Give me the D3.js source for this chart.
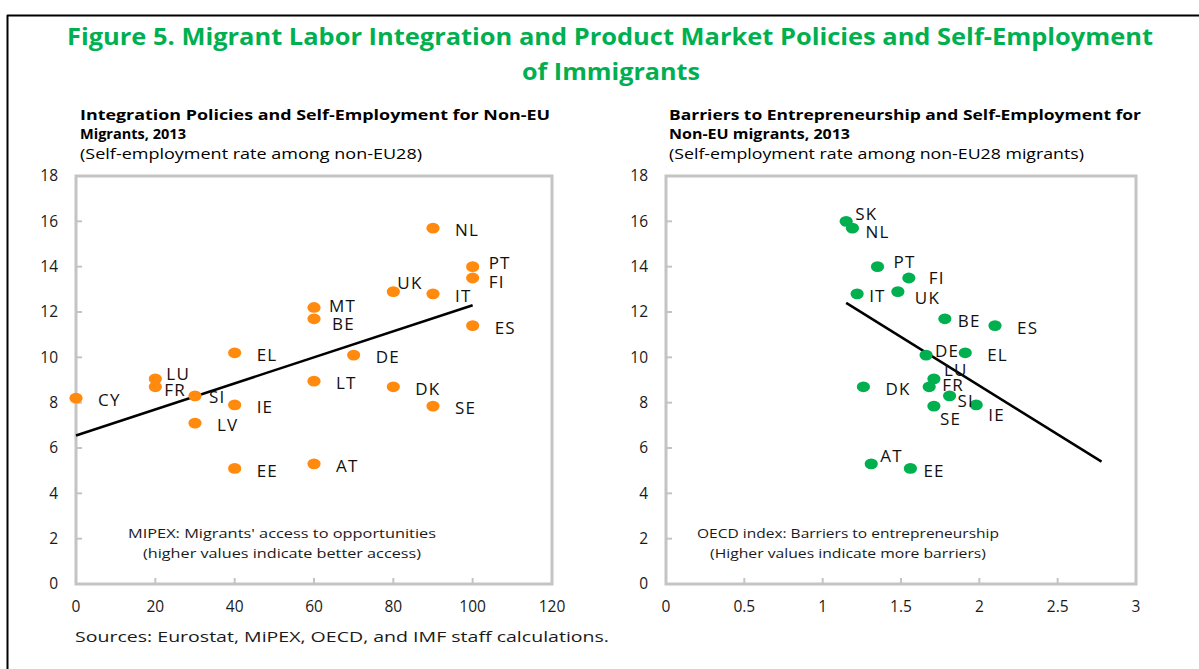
<!DOCTYPE html>
<html>
<head>
<meta charset="utf-8">
<script src="https://cdn.jsdelivr.net/npm/d3@7/dist/d3.min.js"></script>
<style>
  html, body { margin: 0; padding: 0; background: #fff; }
  svg { display: block; font-family: "Open Sans", "Noto Sans", sans-serif; }
</style>
</head>
<body>
<svg id="canvas" width="1199" height="669"></svg>
<script>
'use strict';

// ---- data ----
const mipexCountries = ['NL', 'PT', 'FI', 'UK', 'IT', 'MT', 'BE', 'ES', 'EL', 'DE', 'LU', 'FR', 'LT', 'DK', 'CY', 'SI', 'IE', 'SE', 'LV', 'EE', 'AT'];
const mipexScores    = [90, 100, 100, 80, 90, 60, 60, 100, 40, 70, 20, 20, 60, 80, 0, 30, 40, 90, 30, 40, 60];
const mipexSelfEmp   = [15.7, 14.0, 13.5, 12.9, 12.8, 12.2, 11.7, 11.4, 10.2, 10.1, 9.05, 8.7, 8.95, 8.7, 8.2, 8.3, 7.9, 7.85, 7.1, 5.1, 5.3];
const mipexTrend     = [[0, 6.55], [100, 12.3]];

const oecdCountries = ['SK', 'NL', 'PT', 'FI', 'UK', 'IT', 'BE', 'ES', 'DE', 'EL', 'LU', 'FR', 'DK', 'SI', 'IE', 'SE', 'AT', 'EE'];
const oecdBarriers  = [1.15, 1.19, 1.35, 1.55, 1.48, 1.22, 1.78, 2.10, 1.66, 1.91, 1.71, 1.68, 1.26, 1.81, 1.98, 1.71, 1.31, 1.56];
const oecdSelfEmp   = [16.0, 15.7, 14.0, 13.5, 12.9, 12.8, 11.7, 11.4, 10.1, 10.2, 9.05, 8.7, 8.7, 8.3, 7.9, 7.85, 5.3, 5.1];
const oecdTrend     = [[1.15, 12.4], [2.78, 5.4]];

const yTicks     = [0, 2, 4, 6, 8, 10, 12, 14, 16, 18];
const mipexTicks = [0, 20, 40, 60, 80, 100, 120];
const oecdTicks  = [0, 0.5, 1, 1.5, 2, 2.5, 3];

// label nudges (px) where the label is not at the default spot
const mipexNudge = { UK: [4, -9], PT: [16, -4], FI: [16, 4], MT: [15, -2], BE: [18, 5], LU: [11, -5], FR: [9, 3], SI: [14, 1] };
const oecdNudge  = { SK: [9, -7], NL: [13, 4], PT: [16, -5], FI: [20, 0], UK: [17, 6], IT: [12, 2], BE: [13, 2], DE: [9, -4],
                     LU: [10, -9], FR: [13, -2], SI: [8, 5], IE: [12, 10], SE: [6, 13], AT: [9, -8], EE: [13, 2] };

const svg = d3.select('#canvas');

// outer frame (top + left rule)
svg.append('line').attr('x1', 7).attr('x2', 1199).attr('y1', 15.5).attr('y2', 15.5)
    .attr('stroke', '#000').attr('stroke-width', 2);
svg.append('line').attr('x1', 7.5).attr('x2', 7.5).attr('y1', 15).attr('y2', 669)
    .attr('stroke', '#000').attr('stroke-width', 2);

// main title
const titleG = svg.append('g').attr('fill', '#00B050').attr('font-weight', 'bold')
    .attr('font-size', 24).attr('text-anchor', 'middle');
titleG.append('text').attr('x', 610).attr('y', 45)
    .attr('textLength', 1086).attr('lengthAdjust', 'spacingAndGlyphs')
    .text('Figure 5. Migrant Labor Integration and Product Market Policies and Self-Employment');
titleG.append('text').attr('x', 611).attr('y', 80)
    .attr('textLength', 178).attr('lengthAdjust', 'spacingAndGlyphs')
    .text('of Immigrants');

function drawPanel(p) {
    const g = svg.append('g');

    const x = d3.scaleLinear().domain(p.xDomain).range(p.xRange);
    const y = d3.scaleLinear().domain([0, 18]).range([584, 176]);

    // panel headings
    p.heading.forEach(function(h, i) {
        g.append('text')
            .attr('x', p.headX).attr('y', [120, 139, 159][i])
            .attr('font-size', i < 2 ? 14.5 : 14.5)
            .attr('font-weight', i < 2 ? 'bold' : 'normal')
            .attr('textLength', h.w).attr('lengthAdjust', 'spacingAndGlyphs')
            .text(h.t);
    });

    // plot box
    g.append('rect')
        .attr('x', x.range()[0]).attr('y', y(18))
        .attr('width', x.range()[1] - x.range()[0]).attr('height', y(0) - y(18))
        .attr('fill', 'none').attr('stroke', '#c4c4c4').attr('stroke-width', 3);

    // ticks (inside the box)
    g.append('g').selectAll('line').data(yTicks.slice(1, -1)).enter().append('line')
        .attr('x1', x.range()[0]).attr('x2', x.range()[0] + 6)
        .attr('y1', function(d) { return y(d); }).attr('y2', function(d) { return y(d); })
        .attr('stroke', '#c4c4c4').attr('stroke-width', 2);
    g.append('g').selectAll('line').data(p.xTicks.slice(1, -1)).enter().append('line')
        .attr('x1', function(d) { return x(d); }).attr('x2', function(d) { return x(d); })
        .attr('y1', y(0)).attr('y2', y(0) - 6)
        .attr('stroke', '#c4c4c4').attr('stroke-width', 2);

    // tick labels
    g.append('g').selectAll('text').data(yTicks).enter().append('text')
        .attr('x', x.range()[0] - 18).attr('y', function(d) { return y(d); })
        .attr('dy', '0.35em').attr('text-anchor', 'end').attr('font-size', 15.5)
        .attr('fill', '#1a1a1a')
        .text(function(d) { return d; });
    g.append('g').selectAll('text').data(p.xTicks).enter().append('text')
        .attr('x', function(d) { return x(d); }).attr('y', 607)
        .attr('dy', '0.35em').attr('text-anchor', 'middle').attr('font-size', 15.5)
        .attr('fill', '#1a1a1a')
        .text(function(d) { return d; });

    // trend line
    g.append('line')
        .attr('x1', x(p.trend[0][0])).attr('y1', y(p.trend[0][1]))
        .attr('x2', x(p.trend[1][0])).attr('y2', y(p.trend[1][1]))
        .attr('stroke', '#000').attr('stroke-width', 2.5);

    // points
    const pts = p.countries.map(function(c, i) { return { c: c, x: p.xs[i], y: p.ys[i] }; });
    g.append('g').selectAll('ellipse').data(pts).enter().append('ellipse')
        .attr('cx', function(d) { return x(d.x); })
        .attr('cy', function(d) { return y(d.y); })
        .attr('rx', 6.6).attr('ry', 5.4)
        .attr('fill', p.color);

    g.append('g').selectAll('text').data(pts).enter().append('text')
        .attr('x', function(d) { return x(d.x) + (p.nudge[d.c] || [22, 2])[0]; })
        .attr('y', function(d) { return y(d.y) + (p.nudge[d.c] || [22, 2])[1]; })
        .attr('dy', '0.36em').attr('font-size', 17).attr('letter-spacing', 1.2)
        .attr('fill', '#111')
        .text(function(d) { return d.c; });

    // axis note
    p.note.forEach(function(n, i) {
        g.append('text')
            .attr('x', p.noteX).attr('y', 533 + i * 20).attr('dy', '0.35em')
            .attr('text-anchor', 'middle').attr('font-size', 13.5).attr('fill', '#1a1a1a')
            .attr('textLength', n.w).attr('lengthAdjust', 'spacingAndGlyphs')
            .text(n.t);
    });
}

drawPanel({
    xDomain: [0, 120], xRange: [76, 552], xTicks: mipexTicks,
    countries: mipexCountries, xs: mipexScores, ys: mipexSelfEmp,
    trend: mipexTrend, color: '#FF8A0D', nudge: mipexNudge,
    headX: 80,
    heading: [
        { t: 'Integration Policies and Self-Employment for Non-EU', w: 470 },
        { t: 'Migrants, 2013', w: 106 },
        { t: '(Self-employment rate among non-EU28)', w: 342 }
    ],
    noteX: 282,
    note: [
        { t: "MIPEX: Migrants' access to opportunities", w: 308 },
        { t: '(higher values indicate  better access)', w: 278 }
    ]
});

drawPanel({
    xDomain: [0, 3], xRange: [666, 1136], xTicks: oecdTicks,
    countries: oecdCountries, xs: oecdBarriers, ys: oecdSelfEmp,
    trend: oecdTrend, color: '#00B04F', nudge: oecdNudge,
    headX: 669,
    heading: [
        { t: 'Barriers to Entrepreneurship and Self-Employment for', w: 472 },
        { t: 'Non-EU migrants, 2013', w: 181 },
        { t: '(Self-employment rate among non-EU28 migrants)', w: 415 }
    ],
    noteX: 848,
    note: [
        { t: 'OECD index: Barriers to entrepreneurship', w: 302 },
        { t: '(Higher values indicate more barriers)', w: 276 }
    ]
});

// source line
svg.append('text').attr('x', 75).attr('y', 637).attr('dy', '0.35em')
    .attr('font-size', 15).attr('fill', '#1a1a1a')
    .attr('textLength', 534).attr('lengthAdjust', 'spacingAndGlyphs')
    .text('Sources: Eurostat, MiPEX, OECD, and IMF staff calculations.');
</script>
</body>
</html>
